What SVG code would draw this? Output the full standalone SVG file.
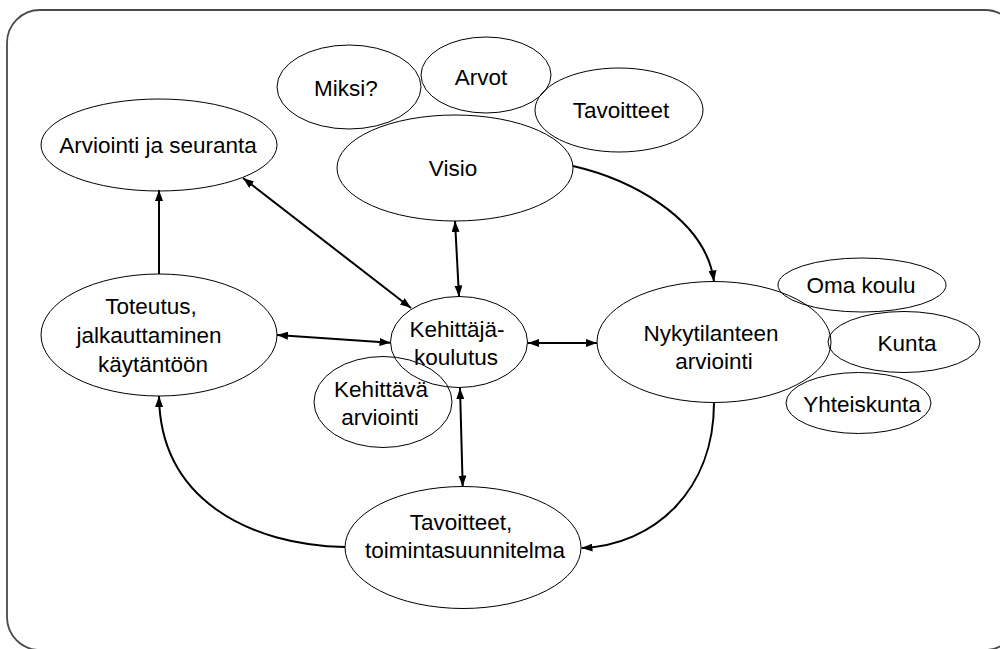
<svg xmlns="http://www.w3.org/2000/svg" width="1000" height="649" viewBox="0 0 1000 649">
<style>
.n ellipse{fill:none;stroke:#000;stroke-width:1}
.t{font-family:"Liberation Sans",Arial,sans-serif;font-size:22.5px;fill:#000;text-anchor:middle}
.c path,.c line{stroke:#000;stroke-width:2;fill:none}
.frame{fill:#fff;stroke:#4a4a4a;stroke-width:1.8}
</style>
<defs>
<marker id="ah" viewBox="0 0 11 8" refX="11" refY="4" markerWidth="11" markerHeight="8" markerUnits="userSpaceOnUse" orient="auto-start-reverse">
<path d="M0,0 L11,4 L0,8 Z" fill="#000"/>
</marker>
</defs>
<rect class="frame" x="7" y="10" width="1011" height="640" rx="33" ry="33"/>
<g class="n">
<g id="miksi"><ellipse cx="349" cy="87" rx="72" ry="42"/><text class="t" x="346" y="96">Miksi?</text></g>
<g id="arvot"><ellipse cx="486" cy="75" rx="65" ry="38"/><text class="t" x="481" y="85">Arvot</text></g>
<g id="tavoitteet"><ellipse cx="619" cy="110" rx="84" ry="42"/><text class="t" x="621" y="118">Tavoitteet</text></g>
<g id="visio"><ellipse cx="455" cy="168" rx="118" ry="53"/><text class="t" x="453" y="176">Visio</text></g>
<g id="arviointi"><ellipse cx="159" cy="145" rx="118" ry="46"/><text class="t" x="158" y="153">Arviointi ja seuranta</text></g>
<g id="toteutus"><ellipse cx="159" cy="335" rx="118" ry="61"/><text class="t" x="151" y="314">Toteutus,</text><text class="t" x="149" y="343">jalkauttaminen</text><text class="t" x="153" y="372">käytäntöön</text></g>
<g id="kehittaja"><ellipse cx="459" cy="342" rx="68.5" ry="45.5"/><text class="t" x="457" y="337">Kehittäjä-</text><text class="t" x="456" y="365">koulutus</text></g>
<g id="kehittava"><ellipse cx="383" cy="402" rx="69" ry="45.5"/><text class="t" x="381" y="397">Kehittävä</text><text class="t" x="380" y="425">arviointi</text></g>
<g id="nykytilanne"><ellipse cx="714" cy="342" rx="117" ry="60.5"/><text class="t" x="711" y="341">Nykytilanteen</text><text class="t" x="714" y="369">arviointi</text></g>
<g id="omakoulu"><ellipse cx="862" cy="285" rx="84" ry="27"/><text class="t" x="861" y="293">Oma koulu</text></g>
<g id="kunta"><ellipse cx="904" cy="342" rx="76" ry="30.5"/><text class="t" x="907" y="351">Kunta</text></g>
<g id="yhteiskunta"><ellipse cx="858.5" cy="403" rx="72.5" ry="30.5"/><text class="t" x="862" y="412">Yhteiskunta</text></g>
<g id="toimintasuunnitelma"><ellipse cx="463" cy="547.5" rx="118" ry="61"/><text class="t" x="461" y="530">Tavoitteet,</text><text class="t" x="465" y="558">toimintasuunnitelma</text></g>
</g>
<g class="c" id="connectors">
<line x1="159" y1="274" x2="159" y2="190" marker-end="url(#ah)"/>
<line x1="243" y1="178" x2="411" y2="308" marker-start="url(#ah)" marker-end="url(#ah)"/>
<line x1="455" y1="221" x2="459" y2="296.5" marker-start="url(#ah)" marker-end="url(#ah)"/>
<line x1="277" y1="335" x2="390.5" y2="342.7" marker-start="url(#ah)" marker-end="url(#ah)"/>
<line x1="528" y1="343" x2="597" y2="343" marker-start="url(#ah)" marker-end="url(#ah)"/>
<line x1="460" y1="388" x2="462.7" y2="486.5" marker-start="url(#ah)" marker-end="url(#ah)"/>
<path d="M573,166 C625,178 705,215 714,281.5" marker-end="url(#ah)"/>
<path d="M714,402.5 C714,490 655,545 581.5,548" marker-end="url(#ah)"/>
<path d="M345,547 C250,545 160,500 159,396" marker-end="url(#ah)"/>
</g>
</svg>
